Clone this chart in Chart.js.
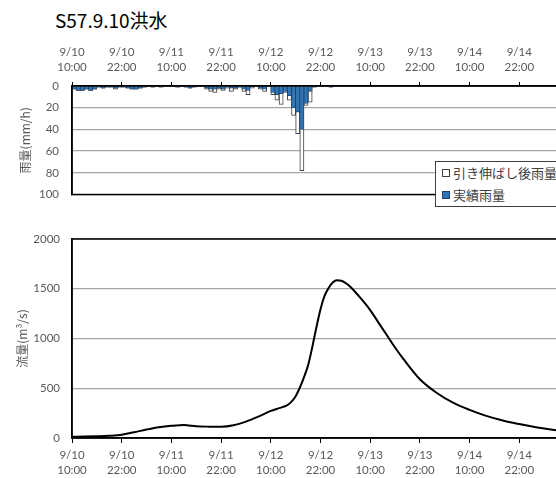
<!DOCTYPE html>
<html><head><meta charset="utf-8">
<script src="https://cdn.jsdelivr.net/npm/chart.js@4/dist/chart.umd.min.js"></script>
<style>
html,body{margin:0;padding:0;background:#fff;overflow:hidden;width:556px;height:478px;position:relative;}
#title{position:absolute;left:55px;top:7px;font:19px "Noto Sans CJK JP","Noto Sans",sans-serif;color:#000;line-height:26px;white-space:nowrap;}
#c1{position:absolute;left:0;top:30px;}
#c2{position:absolute;left:0;top:215px;}
#legend{position:absolute;left:435px;top:161px;width:150px;height:44px;border:1px solid #404040;background:#fff;font:13px "Noto Sans CJK JP",sans-serif;color:#404040;}
#legend .it{position:absolute;left:6px;white-space:nowrap;line-height:16px;}
#legend .sw{display:inline-block;width:6px;height:6px;margin-right:3px;vertical-align:1px;}
</style></head>
<body>
<div id="title">S57.9.10洪水</div>
<canvas id="c1" width="600" height="185"></canvas>
<canvas id="c2" width="600" height="263"></canvas>
<div id="legend">
  <div class="it" style="top:3px"><span class="sw" style="background:#fff;border:1px solid #404040"></span>引き伸ばし後雨量</div>
  <div class="it" style="top:25px"><span class="sw" style="background:#2e75b6;border:1px solid #1f3f66"></span>実績雨量</div>
</div>
<script>
// ---- data ----
const tickDates = ['9/10','9/10','9/11','9/11','9/12','9/12','9/13','9/13','9/14','9/14'];
const tickTimes = ['10:00','22:00','10:00','22:00','10:00','22:00','10:00','22:00','10:00','22:00'];

// hourly rainfall (mm/h), hour 0 = 9/10 10:00
const rainActual = [3,4,4,3,4,3,1,2,1,1, 2,1,1,2,3,3,2,1,0,1, 0,1,0,0,0,1,0,1,2,1, 0,0,2,3,3,2,3,1,2,2, 1,3,4,1,0,2,3,0,6,8, 7,5,9,20,24,40,16,5,1,0, 0,0,1];
const rainStretched = [3,4,4,3,4,3,1,2,1,1, 3,1,1,2,3,3,2,1,0,1, 0,1,0,0,0,1,0,1,2,1, 0,0,3,5,6,3,4,2,5,3, 1,5,8,2,0,3,5,0,8,13, 17,6,13,27,44,78,18,15,1,0, 0,0,1];

// discharge (m3/s)
const flowHours = [0,3,6,9,12,15,18,21,24,27,30,33,36,39,42,45,48,50,52,53,54,55,56,57,58,59,60,61,62,63,64,65,66,67,68,70,72,74,76,78,80,84,88,92,96,100,104,108,112,116,120];
const flowValues = [12,14,17,22,32,58,85,108,122,130,118,114,113,128,165,215,272,300,330,365,420,505,610,730,910,1110,1295,1430,1510,1565,1585,1580,1560,1528,1485,1390,1286,1160,1035,910,795,590,455,355,282,222,176,140,108,82,62];

// ---- helpers ----
const LBL = '#595959';
const tickFont = {family:'Lato, "Noto Sans CJK JP", sans-serif', size:11.5, lineHeight:1.3};
const titleFont = {family:'"Noto Sans CJK JP", sans-serif', size:12};
function xLabel(v){ const i = Math.round(v/12); return (i < tickDates.length) ? [tickDates[i], tickTimes[i]] : ''; }
function yLabel(v){ return String(v); }
const frame = {id:'frame', afterDraw(c){ const a=c.chartArea, ctx=c.ctx; ctx.save(); ctx.strokeStyle='#000'; ctx.lineWidth=1.5; ctx.strokeRect(a.left,a.top,a.right-a.left,a.bottom-a.top); ctx.restore(); }};

Chart.defaults.animation = false;

new Chart(document.getElementById('c1'), {
  type:'bar',
  data:{ datasets:[
    {label:'実績雨量', data: rainActual.map((v,i)=>({x:i+0.5,y:v})), backgroundColor:'#2e75b6', borderColor:'#1f3f66', borderWidth:0.8},
    {label:'引き伸ばし後雨量', data: rainStretched.map((v,i)=>({x:i+0.5,y:v})), backgroundColor:'#ffffff', borderColor:'#404040', borderWidth:1}
  ]},
  options:{
    responsive:false, devicePixelRatio:1,
    layout:{padding:{left:0,right:31,top:0,bottom:8}},
    plugins:{legend:{display:false}, tooltip:{enabled:false}},
    datasets:{bar:{grouped:false, barPercentage:1, categoryPercentage:1}},
    scales:{
      x:{type:'linear', position:'top', min:0, max:120, offset:false,
        ticks:{stepSize:12, autoSkip:false, maxRotation:0, padding:7, color:LBL, font:tickFont, callback:xLabel},
        grid:{offset:false, drawOnChartArea:false, drawTicks:true, tickLength:4, color:'#000', lineWidth:1},
        border:{display:true, color:'#000', width:1.5},
        afterFit(s){ s.height = 56; }},
      y:{reverse:true, min:0, max:100,
        ticks:{stepSize:20, padding:13, color:LBL, font:tickFont, callback:yLabel},
        grid:{color:'#a6a6a6', lineWidth:1.3, drawTicks:false},
        border:{display:true, color:'#000', width:1.5},
        title:{display:true, text:'雨量(mm/h)', color:LBL, font:titleFont, padding:{top:18,bottom:0}},
        afterFit(s){ s.width = 72; }}
    }
  },
  plugins:[frame]
});

new Chart(document.getElementById('c2'), {
  type:'line',
  data:{ datasets:[
    {label:'流量', data: flowHours.map((h,i)=>({x:h,y:flowValues[i]})), borderColor:'#000', borderWidth:2, pointRadius:0, cubicInterpolationMode:'monotone', fill:false}
  ]},
  options:{
    responsive:false, devicePixelRatio:1,
    layout:{padding:{left:0,right:31,top:24,bottom:0}},
    plugins:{legend:{display:false}, tooltip:{enabled:false}},
    scales:{
      x:{type:'linear', position:'bottom', min:0, max:120,
        ticks:{stepSize:12, autoSkip:false, maxRotation:0, padding:4.5, color:LBL, font:tickFont, callback:xLabel},
        grid:{drawOnChartArea:false, drawTicks:true, tickLength:5, color:'#000', lineWidth:1},
        border:{display:true, color:'#000', width:1.5},
        afterFit(s){ s.height = 40; }},
      y:{min:0, max:2000,
        ticks:{stepSize:500, padding:12, color:LBL, font:tickFont, callback:yLabel},
        grid:{color:'#a6a6a6', lineWidth:1.3, drawTicks:false},
        border:{display:true, color:'#000', width:1.5},
        title:{display:true, text:'流量(m³/s)', color:LBL, font:titleFont, padding:{top:15,bottom:0}},
        afterFit(s){ s.width = 72; }}
    }
  },
  plugins:[frame]
});
</script>
</body></html>
